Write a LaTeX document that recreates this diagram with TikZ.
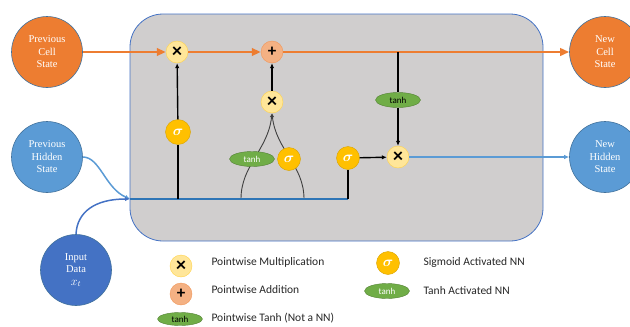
\documentclass[tikz,border=0pt]{standalone}
\usepackage{amsmath,amssymb}
\usepackage{fontspec}
\setmainfont{Liberation Serif}
\newfontfamily\legendfont{Carlito}
\usetikzlibrary{positioning, arrows.meta, calc, shapes.geometric}

\definecolor{cellorange}{HTML}{ED7D31}
\definecolor{hidblue}{HTML}{5B9BD5}
\definecolor{inblue}{HTML}{4472C4}
\definecolor{ringblue}{HTML}{41719C}
\definecolor{boxgray}{HTML}{D0CECE}
\definecolor{busblue}{HTML}{2E75B6}
\definecolor{mulfill}{HTML}{FFE699}
\definecolor{sigfill}{HTML}{FFC000}
\definecolor{addfill}{HTML}{F4B183}
\definecolor{tanhfill}{HTML}{70AD47}
\definecolor{tanhring}{HTML}{548235}

\pgfdeclarelayer{back}
\pgfdeclarelayer{wires}
\pgfsetlayers{back,wires,main}

\newcommand{\mulsign}{{\legendfont\bfseries\fontsize{20}{20}\selectfont ×}}
\newcommand{\addsign}{{\legendfont\bfseries\fontsize{17}{17}\selectfont +}}
\newcommand{\sigsign}{$\boldsymbol{\sigma}$}

\begin{document}
\begin{tikzpicture}[
    x=1pt, y=-1pt,
    >=Latex,
    state/.style={
        circle, draw=ringblue, line width=0.6pt, minimum size=71pt,
        inner sep=0pt, text=white, align=center,
        font=\fontsize{10.5}{12.5}\selectfont
    },
    mulgate/.style={
        circle, draw=sigfill!70, fill=mulfill, minimum size=22pt, inner sep=0pt
    },
    addgate/.style={
        circle, draw=cellorange!80, fill=addfill, minimum size=22pt, inner sep=0pt
    },
    siggate/.style={
        circle, draw=sigfill!85!black, fill=sigfill, minimum size=23pt,
        inner sep=0pt, text=white, font=\fontsize{14}{14}\selectfont
    },
    tanhgate/.style={
        ellipse, draw=tanhring, fill=tanhfill, minimum width=45pt,
        minimum height=15pt, inner sep=0pt,
        font=\legendfont\fontsize{9}{9}\selectfont
    },
    legendtext/.style={
        anchor=west, text=black!85, font=\legendfont\fontsize{11.5}{12}\selectfont
    },
    cellflow/.style={-{Triangle[length=9pt,width=7.5pt]}, line width=2.2pt, cellorange},
    gateflow/.style={-{Latex[length=5pt,width=4.5pt]}, line width=1.4pt, black},
    gateline/.style={line width=1.4pt, black},
    mixline/.style={-{Latex[length=4pt,width=3.5pt]}, line width=0.9pt, black!75},
]
\useasboundingbox (0,0) rectangle (630,327);

% =====================================================================
%  CELL BODY
% =====================================================================
\begin{pgfonlayer}{back}
\node[draw=inblue, line width=0.8pt, fill=boxgray, rounded corners=33pt,
      minimum width=413pt, minimum height=227pt] (cellbox) at (336.5,127.5) {};
\end{pgfonlayer}

% States outside the cell
\node[state, fill=cellorange] (prevcell) at (47,52)  {Previous\\Cell\\State};
\node[state, fill=cellorange] (newcell)  at (605,52) {New\\Cell\\State};
\node[state, fill=hidblue]    (prevhid)  at (47,157) {Previous\\Hidden\\State};
\node[state, fill=hidblue]    (newhid)   at (605,157) {New\\Hidden\\State};
\node[state, fill=inblue]     (input)    at (76,270) {Input\\Data\\{\large$x_t$}};

% Gates
\node[mulgate]  (mulf)  at (177,52)  {\mulsign};
\node[addgate]  (addc)  at (272,52)  {\addsign};
\node[mulgate]  (muli)  at (272,102) {\mulsign};
\node[siggate, minimum size=25pt] (sigf) at (178,132) {\sigsign};
\node[tanhgate, text=white] (tanhc) at (252,159) {tanh};
\node[siggate]  (sigi)  at (289,159) {\sigsign};
\node[siggate]  (sigo)  at (348,158) {\sigsign};
\node[tanhgate, text=black] (tanho) at (398,100) {tanh};
\node[mulgate]  (mulo)  at (398,157) {\mulsign};

% Hidden/input bus
\coordinate (hin)  at (130,199);
\coordinate (hend) at (348,199);
\coordinate (tapl) at (241,199);
\coordinate (tapr) at (304,199);

% Cell state line
\draw[cellflow] (prevcell) -- (mulf);
\draw[cellflow] (mulf) -- (addc);
\draw[cellflow] (addc) -- (newcell);

% Inputs into the cell
\draw[-{Latex[length=5pt,width=4.5pt]}, line width=1.5pt, hidblue]
    (prevhid.east) .. controls (100,157) and (105,188) .. (hin);
\draw[-{Latex[length=5pt,width=4.5pt]}, line width=1.5pt, inblue]
    (input.north) .. controls (77,212) and (95,199) .. (hin);
\draw[line width=2pt, busblue] (hin) -- (hend);

% Forget gate
\draw[gateline] (sigf |- hin) -- (sigf);
\draw[gateflow] (sigf) -- (mulf);

% Input gate
\begin{pgfonlayer}{wires}
\draw[mixline] (tapl) .. controls (241,165) and (268,150) .. (muli.south);
\draw[mixline] (tapr) .. controls (304,165) and (276,150) .. (muli.south);
\end{pgfonlayer}
\draw[gateflow] (muli) -- (addc);

% Output gate
\draw[gateline] (hend) -- (sigo);
\draw[gateflow] (sigo) -- (mulo);
\draw[gateline] (tanho |- addc) -- (tanho);
\draw[gateflow] (tanho) -- (mulo);
\draw[-{Latex[length=5pt,width=4.5pt]}, line width=1.1pt, hidblue] (mulo) -- (newhid);

% =====================================================================
%  LEGEND
% =====================================================================
\node[mulgate] (lmul) at (181,266) {\mulsign};
\node[legendtext] (lmultxt) at (208,262) {Pointwise Multiplication};
\node[addgate] (ladd) at (181,294) {\addsign};
\node[legendtext] (laddtxt) at (208,290) {Pointwise Addition};
\node[tanhgate, text=black, minimum height=13pt] (ltanh) at (180,319) {tanh};
\node[legendtext] (ltanhtxt) at (208,318) {Pointwise Tanh (Not a NN)};
\node[siggate] (lsig) at (388,263) {\sigsign};
\node[legendtext] (lsigtxt) at (420,262) {Sigmoid Activated NN};
\node[tanhgate, text=white] (ltnn) at (387,291) {tanh};
\node[legendtext] (ltnntxt) at (420,291) {Tanh Activated NN};

\end{tikzpicture}
\end{document}
